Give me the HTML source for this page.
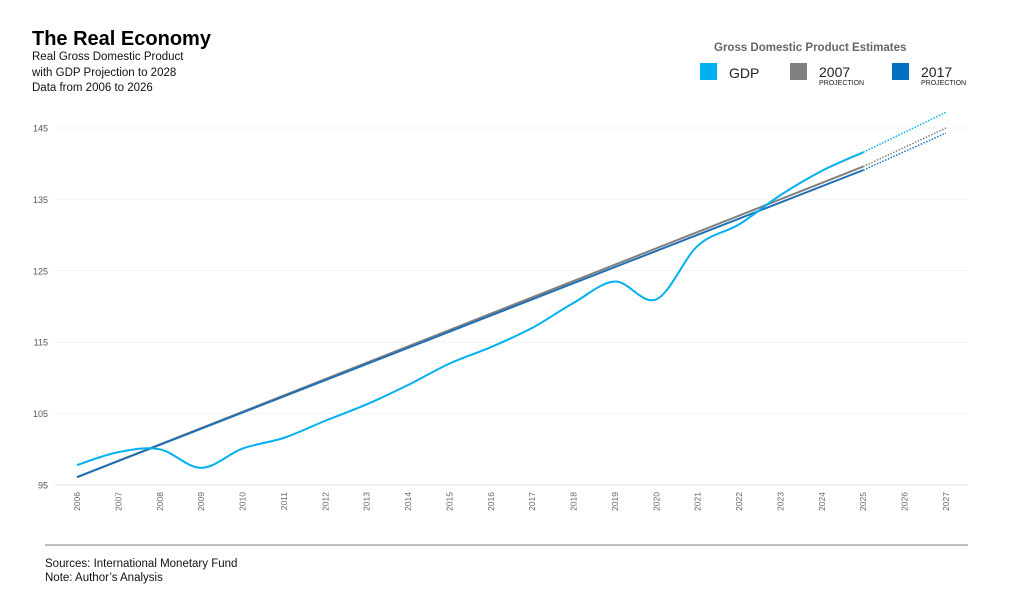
<!DOCTYPE html>
<html><head><meta charset="utf-8"><style>
body{margin:0;background:#fff;font-family:"Liberation Sans",sans-serif;}
</style></head><body>
<svg id="s" width="1024" height="602" xmlns="http://www.w3.org/2000/svg" font-family="Liberation Sans, sans-serif">
<rect width="1024" height="602" fill="#fff"/>
<text x="32" y="45" font-size="20" font-weight="bold" fill="#000">The Real Economy</text>
<text x="32" y="60" font-size="11.5" fill="#111">Real Gross Domestic Product</text>
<text x="32" y="76" font-size="11.5" fill="#111">with GDP Projection to 2028</text>
<text x="32" y="91" font-size="11.5" fill="#111">Data from 2006 to 2026</text>
<text x="714" y="51" font-size="11.5" font-weight="bold" fill="#666">Gross Domestic Product Estimates</text>
<rect x="700" y="63" width="17" height="17" fill="#00b0f0"/>
<text x="729" y="78" font-size="14" fill="#222">GDP</text>
<rect x="790" y="63" width="17" height="17" fill="#808080"/>
<text x="819" y="77" font-size="14" fill="#222">2007</text>
<text x="819" y="85" font-size="7" fill="#222">PROJECTION</text>
<rect x="892" y="63" width="17" height="17" fill="#0070c0"/>
<text x="921" y="77" font-size="14" fill="#222">2017</text>
<text x="921" y="85" font-size="7" fill="#222">PROJECTION</text>
<g id="grid"></g>
<line x1="45" y1="545" x2="968" y2="545" stroke="#aaa" stroke-width="1.5"/>
<text x="45" y="567" font-size="11.5" fill="#111">Sources:  International Monetary Fund</text>
<text x="45" y="581" font-size="11.5" fill="#111">Note: Author’s Analysis</text>
<g id="plot"></g>
</svg>
<script>
var NS="http://www.w3.org/2000/svg";
function X(yr){return 77+(yr-2006)*41.38;}
function Y(v){return 485-(v-95)*7.14;}
function el(p,t,a,txt){var e=document.createElementNS(NS,t);for(var k in a)e.setAttribute(k,a[k]);if(txt)e.textContent=txt;p.appendChild(e);return e;}
var g=document.getElementById('grid');
[95,105,115,125,135,145].forEach(function(v){
  el(g,'line',{x1:55,x2:968,y1:Y(v),y2:Y(v),stroke:v==95?'#ddd':'#f2f2f2','stroke-width':1});
  el(g,'text',{x:48,y:Y(v)+3.5,'font-size':9,fill:'#555','text-anchor':'end'},String(v));
});
for(var yr=2006;yr<=2027;yr++){
  var x=X(yr)+3;
  el(g,'text',{x:0,y:0,'font-size':8.5,fill:'#666','text-anchor':'end',transform:'translate('+x+',492) rotate(-90)'},String(yr));
}
function path(pts){
  var d='M'+pts[0][0]+','+pts[0][1];
  for(var i=0;i<pts.length-1;i++){
    var p0=pts[i-1]||pts[i],p1=pts[i],p2=pts[i+1],p3=pts[i+2]||p2;
    var c1=[p1[0]+(p2[0]-p0[0])/6,p1[1]+(p2[1]-p0[1])/6];
    var c2=[p2[0]-(p3[0]-p1[0])/6,p2[1]-(p3[1]-p1[1])/6];
    d+=' C'+c1[0]+','+c1[1]+' '+c2[0]+','+c2[1]+' '+p2[0]+','+p2[1];
  }
  return d;
}
var gdp=[97.8,99.6,100,97.4,100.1,101.6,104,106.3,109,112,114.3,117,120.5,123.5,121,128.5,131.5,135.6,139,141.6];
var pts=gdp.map(function(v,i){return [X(2006+i),Y(v)];});
var p=document.getElementById('plot');
// gray 2007 projection
el(p,'line',{x1:X(2006),y1:Y(96.1),x2:X(2025),y2:Y(139.6),stroke:'#808080','stroke-width':2});
el(p,'line',{x1:X(2025),y1:Y(139.6),x2:X(2027),y2:Y(145),stroke:'#808080','stroke-width':1.5,'stroke-dasharray':'1.5,1.5'});
// blue 2017 projection
el(p,'line',{x1:X(2006),y1:Y(96.1),x2:X(2025),y2:Y(139.1),stroke:'#1f6fb5','stroke-width':2});
el(p,'line',{x1:X(2025),y1:Y(139.1),x2:X(2027),y2:Y(144.3),stroke:'#1f6fb5','stroke-width':1.5,'stroke-dasharray':'1.5,1.5'});
// GDP
el(p,'path',{d:path(pts),fill:'none',stroke:'#00b0f0','stroke-width':2});
el(p,'line',{x1:X(2025),y1:Y(141.6),x2:X(2027),y2:Y(147.2),stroke:'#00b0f0','stroke-width':1.5,'stroke-dasharray':'1.5,1.5'});
</script>
</body></html>
